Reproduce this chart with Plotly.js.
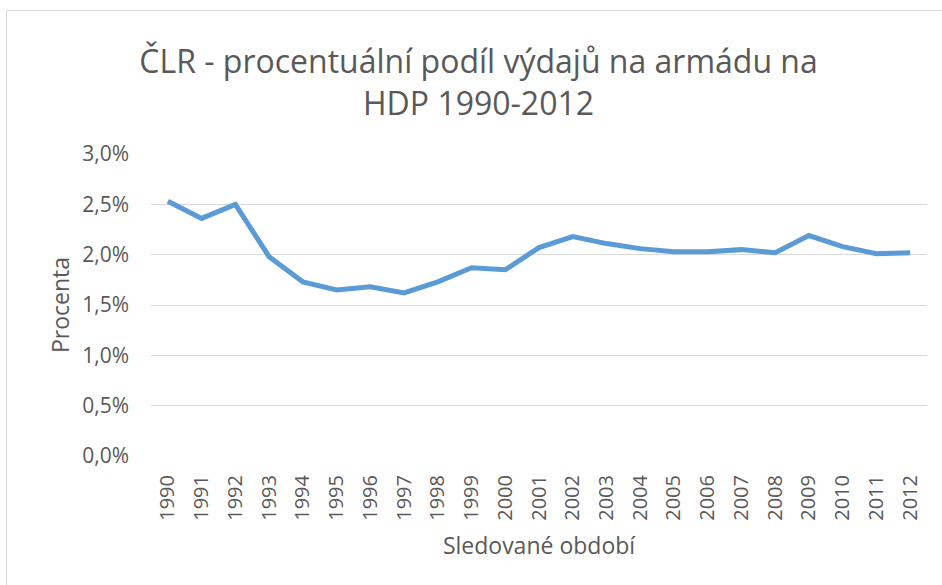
<!DOCTYPE html>
<html>
<head>
<meta charset="utf-8">
<script src="https://cdn.plot.ly/plotly-3.0.1.min.js"></script>
<style>
html,body{margin:0;padding:0;background:#fff;}
#wrap{position:relative;width:942px;height:585px;overflow:hidden;}
#frame{position:absolute;left:6px;top:10px;width:960px;height:600px;border:1px solid #D9D9D9;box-sizing:border-box;pointer-events:none;z-index:5;}
#chart{position:absolute;left:0;top:0;width:942px;height:585px;}
</style>
</head>
<body>
<div id="wrap"><div id="chart"></div><div id="frame"></div></div>
<script>
const years = ["1990","1991","1992","1993","1994","1995","1996","1997","1998","1999","2000","2001","2002","2003","2004","2005","2006","2007","2008","2009","2010","2011","2012"];
const sharePct = [2.53,2.36,2.50,1.98,1.73,1.65,1.68,1.62,1.73,1.87,1.85,2.07,2.18,2.11,2.06,2.03,2.03,2.05,2.02,2.19,2.08,2.01,2.02];
const yTicks = [0,0.5,1.0,1.5,2.0,2.5,3.0];
const yTickLabels = ["0,0%","0,5%","1,0%","1,5%","2,0%","2,5%","3,0%"];

const FONT = "Open Sans, Liberation Sans, sans-serif";
const TXT = "#595959";

Plotly.newPlot("chart", [{
  type: "scatter",
  mode: "lines",
  x: years,
  y: sharePct,
  line: {color: "#5B9BD5", width: 5},
  hoverinfo: "x+y"
}], {
  width: 942, height: 585,
  paper_bgcolor: "#fff", plot_bgcolor: "#fff",
  margin: {l: 151, r: 15, t: 154, b: 129},
  showlegend: false,
  font: {family: FONT, color: TXT},
  title: {
    text: "ČLR - procentuální podíl výdajů na armádu na<br>HDP 1990-2012",
    font: {family: FONT, size: 32, color: TXT},
    x: 0.508, xanchor: "center",
    y: 0.875, yanchor: "middle"
  },
  xaxis: {
    type: "category",
    range: [-0.5, 22.5],
    showgrid: false, zeroline: false, showline: false,
    ticks: "",
    tickangle: -90,
    ticklabelstandoff: 14,
    tickfont: {family: FONT, size: 20, color: TXT},
    title: {text: "Sledované období", font: {family: FONT, size: 23, color: TXT}, standoff: 18}
  },
  yaxis: {
    range: [0, 3.0],
    tickvals: yTicks,
    ticktext: yTickLabels,
    showgrid: true, gridcolor: "#D9D9D9", gridwidth: 1,
    zeroline: false, showline: false,
    ticks: "",
    ticklabelstandoff: 21,
    tickfont: {family: FONT, size: 21, color: TXT},
    title: {text: "Procenta", font: {family: FONT, size: 23, color: TXT}, standoff: 6}
  }
}, {displayModeBar: false, staticPlot: true});
</script>
</body>
</html>
